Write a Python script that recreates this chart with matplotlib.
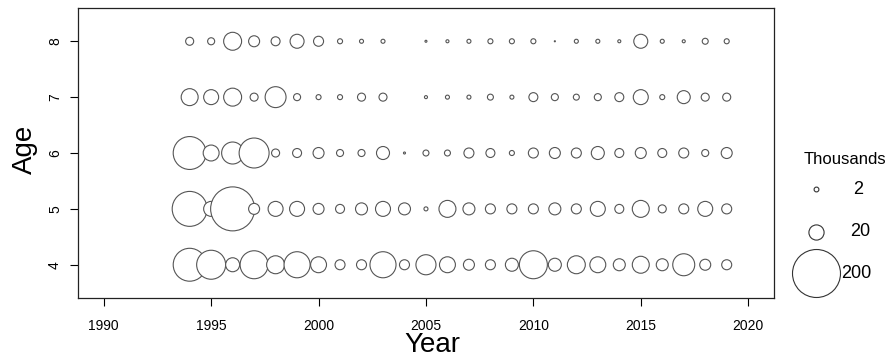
import numpy as np
import matplotlib.pyplot as plt

plt.rcParams['font.family'] = ['Liberation Sans', 'DejaVu Sans']

# Catch at age, thousands
years = np.arange(1994, 2020)
ages = [4, 5, 6, 7, 8]

age4 = [94, 73, 17, 68, 28, 59, 22, 8.7, 8.7, 59, 8.7, 35, 22, 10.5, 8.7, 14.7,
        68, 14.7, 28, 22, 12.5, 25, 12.5, 42, 10.5, 8.7]
age5 = [106, 19.5, 168, 10.5, 19.5, 19.5, 10.5, 7, 12.5, 19.5, 12.5, 1.4, 25, 12.5,
        8.7, 8.7, 8.7, 12.5, 8.7, 19.5, 7, 25, 5.6, 8.7, 19.5, 8.7]
age6 = [94, 22, 42, 78, 5.6, 7, 10.5, 4.3, 4.3, 14.7, 0.35, 3.1, 3.1, 8.7, 7, 2.2,
        8.7, 10.5, 8.7, 14.7, 7, 10.5, 7, 8.7, 4.3, 10.5]
age7 = [25, 19.5, 28, 5.6, 38, 4.3, 2.2, 2.2, 5.6, 5.6, 0, 0.8, 1.4, 1.4, 3.1, 1.4,
        7, 4.3, 3.1, 4.3, 7, 19.5, 2.2, 14.7, 5.6, 5.6]
age8 = [5.6, 4.3, 28, 10.5, 7, 17, 8.7, 2.2, 1.4, 1.4, 0, 0.35, 0.8, 1.4, 2.2, 2.2,
        2.2, 0.1, 1.4, 1.4, 0.8, 17, 1.4, 0.8, 3.1, 2.2]

legend_vals = [2, 20, 200]

SCALE = 5.97  # marker area (pt^2) per thousand fish
edge = '#555555'

fig = plt.figure(figsize=(8.93, 3.58), dpi=100)
ax = fig.add_axes([0.0873, 0.1684, 0.7794, 0.8084])

for age, vals in zip(ages, [age4, age5, age6, age7, age8]):
    vals = np.array(vals)
    keep = vals > 0
    ax.scatter(years[keep], np.full(keep.sum(), age), s=vals[keep] * SCALE,
               facecolors='white', edgecolors=edge, linewidths=0.8, zorder=3)

ax.set_xlim(1988.8, 2021.2)
ax.set_ylim(3.41, 8.59)
ax.set_xticks(range(1990, 2021, 5))
ax.set_yticks(ages)
ax.tick_params(axis='x', length=5.5, pad=10, labelsize=10)
ax.tick_params(axis='y', length=5.5, pad=6, labelsize=10, labelrotation=90)
for lab in ax.get_yticklabels():
    lab.set_va('center')
for sp in ax.spines.values():
    sp.set_linewidth(0.9)
    sp.set_color('#222222')

fig.text(0.4837, 0.037, 'Year', ha='center', va='center', fontsize=20)
fig.text(0.028, 0.5824, 'Age', ha='center', va='center', rotation=90, fontsize=20)

# size legend
lax = fig.add_axes([0, 0, 1, 1], facecolor='none')
lax.set_xlim(0, 893)
lax.set_ylim(358, 0)
lax.axis('off')
lax.text(845, 160, 'Thousands', ha='center', va='center', fontsize=12)
leg_y = [189, 232, 273]
lab_x = [853, 850, 841]
for v, y, lx in zip(legend_vals, leg_y, lab_x):
    lax.scatter([816], [y], s=v * SCALE, facecolors='white', edgecolors='#333333',
                linewidths=0.8, clip_on=False)
    lax.text(lx, y, str(v), ha='left', va='center', fontsize=13)

fig.savefig('out.png', dpi=100)
